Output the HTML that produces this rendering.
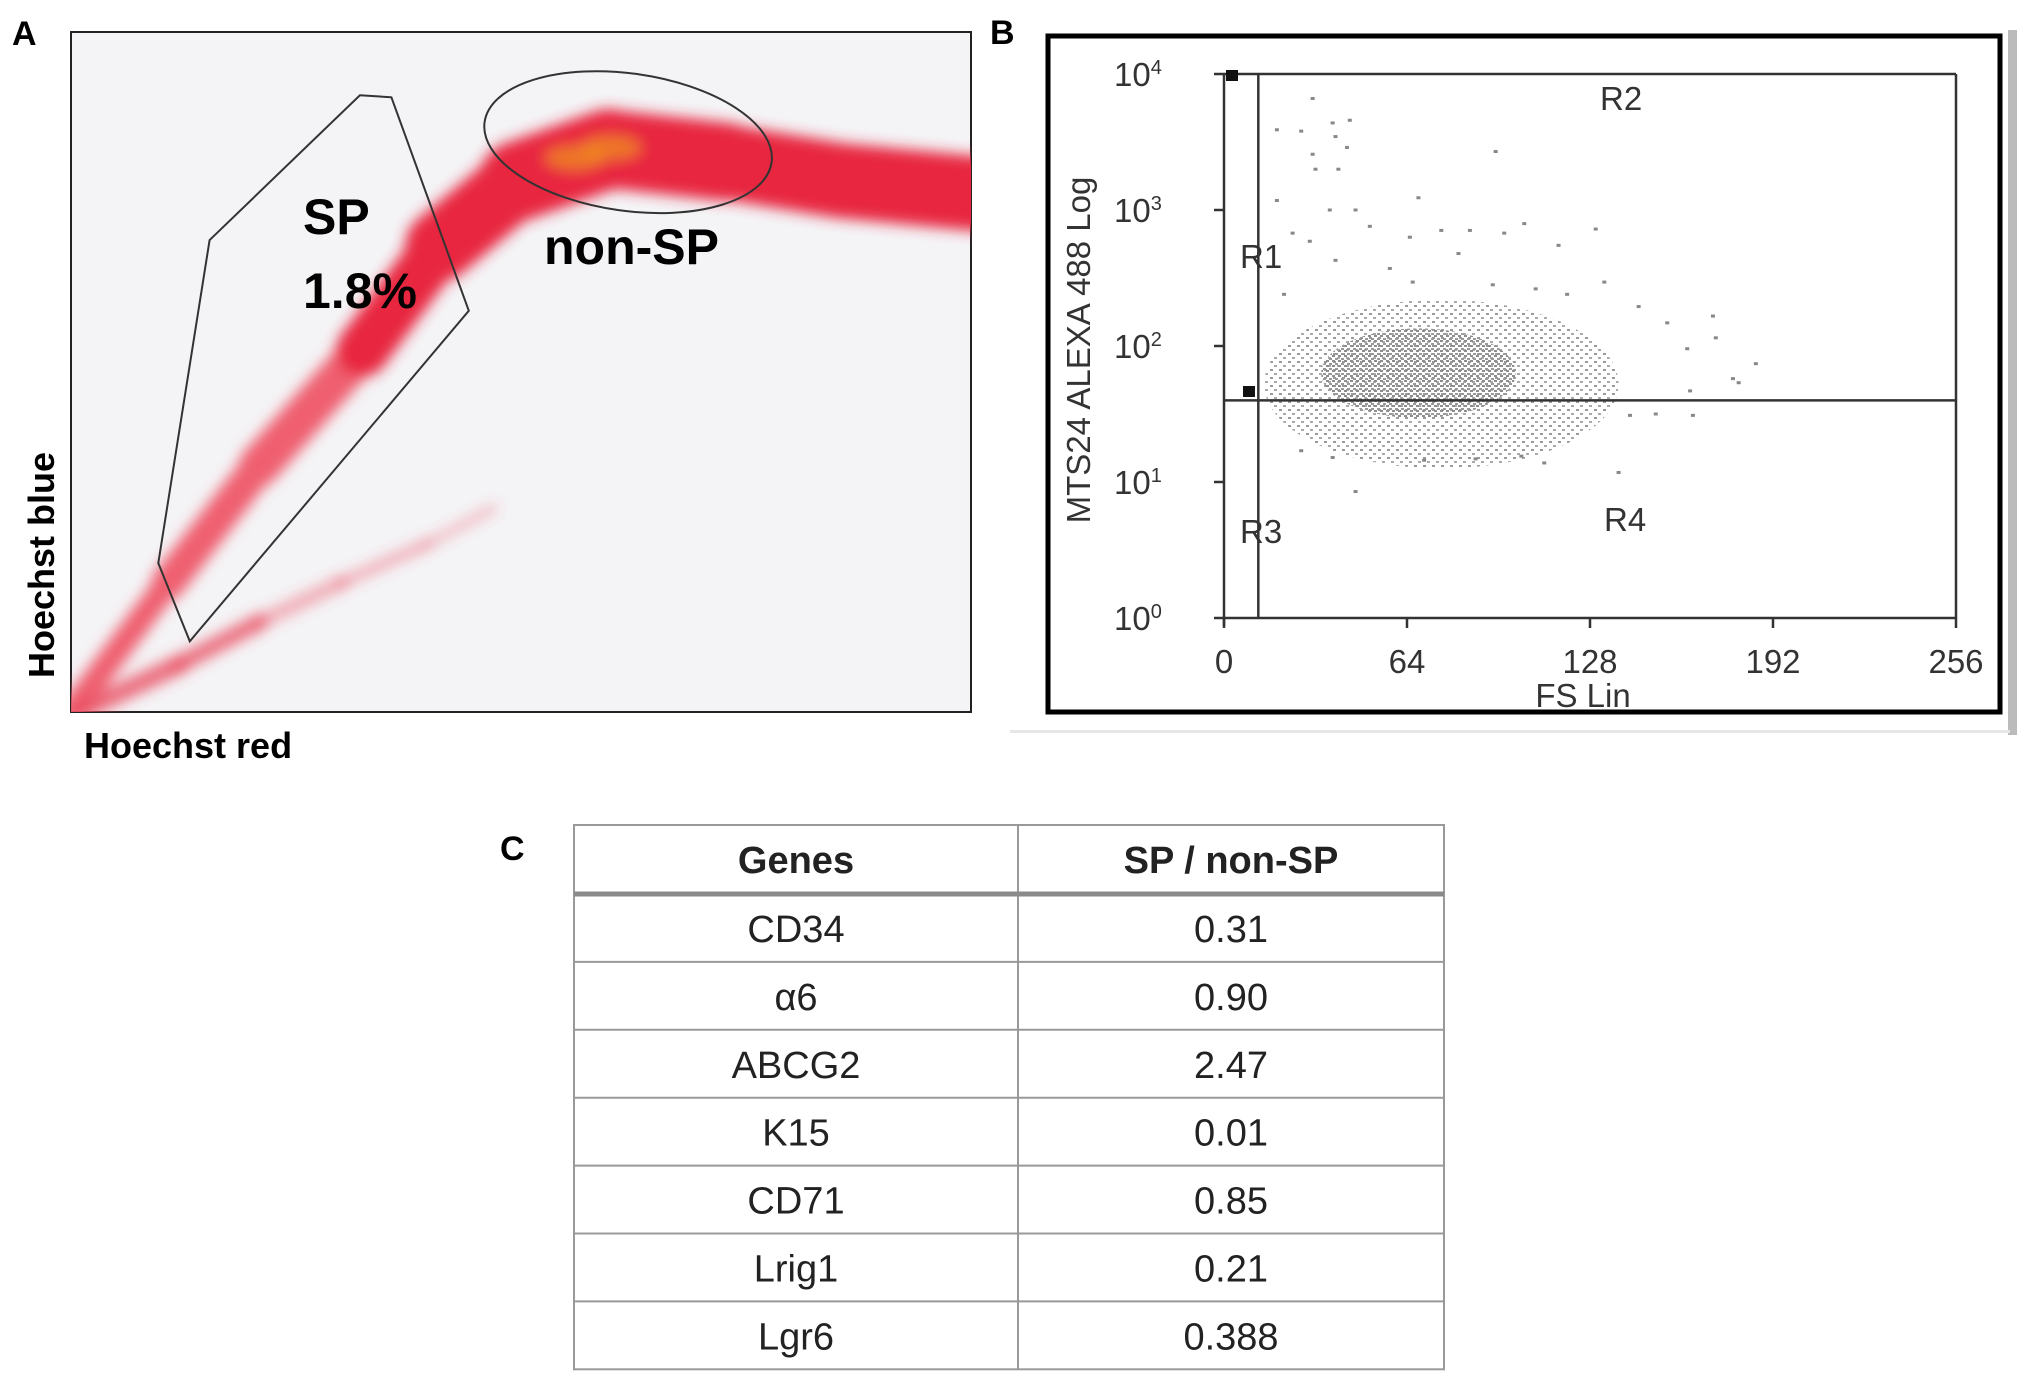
<!DOCTYPE html>
<html><head><meta charset="utf-8">
<style>
html,body{margin:0;padding:0;background:#fff;}
svg{display:block;font-family:"Liberation Sans",sans-serif;}
</style></head>
<body>
<svg id="fig" width="2031" height="1390" viewBox="0 0 2031 1390" xmlns="http://www.w3.org/2000/svg">
<defs>
  <filter id="blurA" filterUnits="userSpaceOnUse" x="0" y="0" width="1100" height="800"><feGaussianBlur stdDeviation="7"/></filter>
  <clipPath id="clipA"><rect x="71" y="32" width="900" height="680"/></clipPath>
  <pattern id="dotsLight" width="9" height="8" patternUnits="userSpaceOnUse"><rect x="1" y="1" width="3" height="2" fill="#9a9a9a"/><rect x="5" y="5" width="3" height="2" fill="#aaa"/></pattern>
  <pattern id="dotsDense" width="6" height="5" patternUnits="userSpaceOnUse"><rect x="0" y="0" width="3" height="2" fill="#8d8d8d"/><rect x="3" y="3" width="3" height="2" fill="#999"/></pattern>
</defs>

<!-- Panel A -->
<text x="12" y="45" font-size="34" font-weight="bold">A</text>
<rect x="71" y="32" width="900" height="680" fill="#f4f4f6" stroke="#222" stroke-width="2"/>
<g id="aMarks" clip-path="url(#clipA)"></g>
<polygon id="spGate" fill="none" stroke="#333" stroke-width="2"/>
<ellipse id="nonSpGate" fill="none" stroke="#333" stroke-width="2"/>
<text x="303" y="234" font-size="50" font-weight="bold">SP</text>
<text x="303" y="308" font-size="50" font-weight="bold">1.8%</text>
<text x="544" y="264" font-size="50" font-weight="bold">non-SP</text>
<text transform="translate(54,565) rotate(-90)" text-anchor="middle" font-size="36" font-weight="bold">Hoechst blue</text>
<text x="84" y="758" font-size="36" font-weight="bold">Hoechst red</text>

<!-- Panel B -->
<text x="990" y="44" font-size="34" font-weight="bold">B</text>
<rect x="1048" y="36" width="952" height="676" fill="#fff" stroke="#000" stroke-width="5"/>
<rect x="2008" y="30" width="9" height="705" fill="#bbb"/>
<rect x="1010" y="730" width="1000" height="3" fill="#e6e6e6"/>
<g id="bMarks"></g>
<g id="bAxes"></g>
<text transform="translate(1090,350) rotate(-90)" text-anchor="middle" font-size="33" fill="#333">MTS24 ALEXA 488 Log</text>
<text x="1583" y="707" text-anchor="middle" font-size="33" fill="#333">FS Lin</text>

<!-- Panel C -->
<text x="500" y="860" font-size="34" font-weight="bold">C</text>
<g id="table"></g>
</svg>

<script>
// ---------- Panel A data (Hoechst red / blue, 0..1000 units) ----------
const mainBandRed  = [0,108,209,324,410,497,598,727,857,1010];
const mainBandBlue = [0,190,362,532,685,781,828,809,781,762];
const mainBandSpread = [30,45,55,65,90,115,120,110,110,110];
const lowBandRed  = [10,120,209,300,396,470];
const lowBandBlue = [0,70,132,190,247,300];
const lowBandSpread = [30,26,22,18,12,8];
const coreRed = [560,600];
const coreBlue = [815,830];
const gateRed  = [321,356,442,132,97,154];
const gateBlue = [907,904,590,104,219,694];
const ellipseRed=[619];
const ellipseBlue=[838];
const ellipseRx=[161];
const ellipseRy=[101];

const ax = v => 71 + v/1000*900;
const ay = v => 712 - v/1000*680;
const NS='http://www.w3.org/2000/svg';
function mk(tag, parent){const e=document.createElementNS(NS,tag);parent.appendChild(e);return e;}

const aG=document.getElementById('aMarks');
const blurG=mk('g',aG);


blurG.setAttribute('filter','url(#blurA)');
for(let i=0;i<mainBandRed.length-1;i++){
  const l=mk('line',blurG);
  
  
  l.setAttribute('x1',ax(mainBandRed[i]));l.setAttribute('y1',ay(mainBandBlue[i]));
  l.setAttribute('x2',ax(mainBandRed[i+1]));l.setAttribute('y2',ay(mainBandBlue[i+1]));
  l.setAttribute('stroke',i<3?'#ef5f70':'#e8283f');l.setAttribute('stroke-linecap','round');
  l.setAttribute('stroke-width',(mainBandSpread[i]+mainBandSpread[i+1])/2*0.68);
}
for(let i=0;i<lowBandRed.length-1;i++){
  const l=mk('line',blurG);
  
  
  l.setAttribute('x1',ax(lowBandRed[i]));l.setAttribute('y1',ay(lowBandBlue[i]));
  l.setAttribute('x2',ax(lowBandRed[i+1]));l.setAttribute('y2',ay(lowBandBlue[i+1]));
  l.setAttribute('stroke','#ea4a5e');l.setAttribute('stroke-width',(lowBandSpread[i]+lowBandSpread[i+1])/2*0.68);
  l.setAttribute('stroke-linecap','round');
  l.setAttribute('opacity',i<2?0.8:0.45);
}
for(let i=0;i<coreRed.length;i++){
  const c=mk('ellipse',blurG);
  
  
  c.setAttribute('cx',ax(coreRed[i]));c.setAttribute('cy',ay(coreBlue[i]));
  c.setAttribute('rx',30);c.setAttribute('ry',12);c.setAttribute('fill','#f09020');
  c.setAttribute('opacity',0.75);
}
const gate=document.getElementById('spGate');
gate.setAttribute('points',gateRed.map((r,i)=>ax(r)+','+ay(gateBlue[i])).join(' '));
const ellEl=document.getElementById('nonSpGate');
ellEl.setAttribute('cx',ax(ellipseRed[0]));ellEl.setAttribute('cy',ay(ellipseBlue[0]));
ellEl.setAttribute('rx',ellipseRx[0]/1000*900);ellEl.setAttribute('ry',ellipseRy[0]/1000*680);
ellEl.setAttribute('transform','rotate(8 '+ax(ellipseRed[0])+' '+ay(ellipseBlue[0])+')');

// ---------- Panel B data ----------
const xTicks=[0,64,128,192,256];
const yTicks=[0,1,2,3,4];
const gateFS=[12];
const gateLog=[1.6];
const cloudFS=[76,68];
const cloudLog=[1.72,1.8];
const cloudSdFS=[62,34];
const cloudSdLog=[0.62,0.33];
const ptFS=[31,38,44,18.5,27,39,43,31,32,40,95,18.5,37,46,68,51,24,65,76,86,98,105,130,30,117,82,58,39,66,133,94,109,21,120,145,171,155,162,172,186,178,163,180,164,151,142,138,46,112,104,88,70,38,27];
const ptLog=[3.82,3.64,3.66,3.59,3.58,3.54,3.46,3.41,3.3,3.3,3.43,3.07,3.0,3.0,3.09,2.88,2.83,2.8,2.85,2.85,2.83,2.9,2.86,2.77,2.74,2.68,2.57,2.63,2.47,2.47,2.45,2.42,2.38,2.38,2.29,2.22,2.17,1.98,2.06,1.87,1.76,1.67,1.73,1.49,1.5,1.49,1.07,0.93,1.14,1.19,1.17,1.16,1.18,1.23];

const bx=v=>1224+v/256*732;
const by=v=>618-v/4*544;
const bG=document.getElementById('bMarks');
for(let i=0;i<cloudFS.length;i++){
  const e=mk('ellipse',bG);
  
  
  e.setAttribute('cx',bx(cloudFS[i]));e.setAttribute('cy',by(cloudLog[i]));
  e.setAttribute('rx',cloudSdFS[i]/256*732);e.setAttribute('ry',cloudSdLog[i]/4*544);
  e.setAttribute('fill',i===0?'url(#dotsLight)':'url(#dotsDense)');
}
for(let i=0;i<ptFS.length;i++){
  const r=mk('rect',bG);
  
  
  r.setAttribute('x',bx(ptFS[i])-2);r.setAttribute('y',by(ptLog[i])-1.5);
  r.setAttribute('width',4);r.setAttribute('height',3);r.setAttribute('fill','#888');
}
const aX=document.getElementById('bAxes');
function line(p,x1,y1,x2,y2,w,name){const l=mk('line',p);
  
  
  l.setAttribute('x1',x1);l.setAttribute('y1',y1);l.setAttribute('x2',x2);l.setAttribute('y2',y2);
  l.setAttribute('stroke','#333');l.setAttribute('stroke-width',w);return l;}
line(aX,bx(0),by(4),bx(256),by(4),2.5,'plot-top-border');
line(aX,bx(256),by(4),bx(256),by(0),2.5,'plot-right-border');
line(aX,bx(0),by(0),bx(256),by(0),2.5,'x-axis-line');
line(aX,bx(0),by(4),bx(0),by(0)+8,2.5,'y-axis-line');
line(aX,bx(gateFS[0]),by(4),bx(gateFS[0]),by(0),2.5,'fs-gate-line');
line(aX,bx(0),by(gateLog[0]),bx(256),by(gateLog[0]),2.5,'log-gate-line');
xTicks.forEach(t=>{
  line(aX,bx(t),by(0),bx(t),by(0)+10,2.5,'x-tick');
  const tx=mk('text',aX);
  
  
  tx.setAttribute('x',bx(t));tx.setAttribute('y',673);tx.setAttribute('text-anchor','middle');
  tx.setAttribute('font-size',33);tx.setAttribute('fill','#333');tx.textContent=t;
});
yTicks.forEach(t=>{
  line(aX,bx(0)-10,by(t),bx(0),by(t),2.5,'y-tick');
  const tx=mk('text',aX);
  
  
  tx.setAttribute('x',1114);tx.setAttribute('y',by(t)+12);
  tx.setAttribute('font-size',33);tx.setAttribute('fill','#333');
  tx.innerHTML='10<tspan dy="-12" font-size="20">'+t+'</tspan>';
});
[[1232,76],[1249,392]].forEach(p=>{const r=mk('rect',aX);
  
  
  r.setAttribute('x',p[0]-6);r.setAttribute('y',p[1]-6);r.setAttribute('width',12);r.setAttribute('height',11);r.setAttribute('fill','#111');});
const regions=[['R2',1600,110],['R1',1240,268],['R3',1240,543],['R4',1604,531]];
regions.forEach(r=>{const t=mk('text',aX);
  
  
  t.setAttribute('x',r[1]);t.setAttribute('y',r[2]);t.setAttribute('font-size',33);t.setAttribute('fill','#333');t.textContent=r[0];});

// ---------- Panel C table ----------
const genes=['CD34','\u03b16','ABCG2','K15','CD71','Lrig1','Lgr6'];
const ratios=['0.31','0.90','2.47','0.01','0.85','0.21','0.388'];
const tG=document.getElementById('table');
const colX=[574,1018,1444], tableTop=825, headH=69, rowH=67.9;
const tableBottom=tableTop+headH+rowH*genes.length;
const frame=mk('rect',tG);


frame.setAttribute('x',colX[0]);frame.setAttribute('y',tableTop);frame.setAttribute('width',colX[2]-colX[0]);frame.setAttribute('height',tableBottom-tableTop);
frame.setAttribute('fill','none');frame.setAttribute('stroke','#999');frame.setAttribute('stroke-width',2);
const vl=line(tG,colX[1],tableTop,colX[1],tableBottom,2,'column-divider');vl.setAttribute('stroke','#999');
const hl=line(tG,colX[0],tableTop+headH,colX[2],tableTop+headH,5,'header-divider');hl.setAttribute('stroke','#8a8a8a');
function cell(txt,x,y,bold,name){const t=mk('text',tG);
  
  
  t.setAttribute('x',x);t.setAttribute('y',y);t.setAttribute('text-anchor','middle');
  t.setAttribute('font-size',38);t.setAttribute('fill','#222');if(bold)t.setAttribute('font-weight','bold');t.textContent=txt;}
cell('Genes',(colX[0]+colX[1])/2,tableTop+48,true,'header-genes');
cell('SP / non-SP',(colX[1]+colX[2])/2,tableTop+48,true,'header-ratio');
genes.forEach((g,i)=>{
  const y0=tableTop+headH+rowH*i;
  if(i>0){const l=line(tG,colX[0],y0,colX[2],y0,2,'row-divider');l.setAttribute('stroke','#999');}
  cell(g,(colX[0]+colX[1])/2,y0+48,false,'gene-name');
  cell(ratios[i],(colX[1]+colX[2])/2,y0+48,false,'ratio-value');
});
</script>
</body></html>
